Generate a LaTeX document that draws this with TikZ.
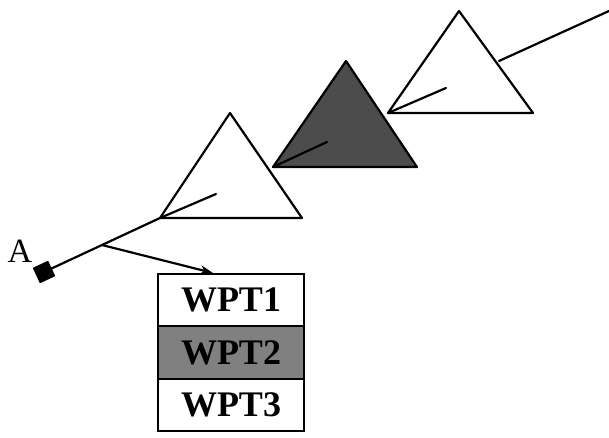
\documentclass[tikz,border=0pt]{standalone}
\usepackage{fontspec}
\setmainfont{Liberation Serif}
\usetikzlibrary{arrows.meta,positioning}
\definecolor{figdark}{gray}{0.3}
\definecolor{figmid}{gray}{0.5}
\tikzset{
  ftri/.style={draw=black,line width=2.2pt,fill=white,line join=round},
  fdark/.style={ftri,fill=figdark},
  flink/.style={black,line width=2.2pt,line cap=round},
  farrow/.style={flink,-{Stealth[length=13pt,width=9pt]}},
  fpoint/.style={fill=black,minimum size=17pt,inner sep=0pt,rotate=25},
  frow/.style={draw=black,line width=2.2pt,minimum width=146pt,minimum height=52.5pt,
               inner sep=0pt,outer sep=0pt,font=\fontsize{36}{36}\selectfont\bfseries},
}
\begin{document}
\begin{tikzpicture}[x=1pt,y=-1pt]
  \useasboundingbox (0,0) rectangle (609,438);
  % triangle corners
  \coordinate (t1top) at (230,113); \coordinate (t1l) at (160,218); \coordinate (t1r) at (302,218);
  \coordinate (t2top) at (346,61);  \coordinate (t2l) at (273,167); \coordinate (t2r) at (417,167);
  \coordinate (t3top) at (459,11);  \coordinate (t3l) at (388,113); \coordinate (t3r) at (533,113);
  \draw[ftri]  (t1top) -- (t1r) -- (t1l) -- cycle;
  \draw[fdark] (t2top) -- (t2r) -- (t2l) -- cycle;
  \draw[ftri]  (t3top) -- (t3r) -- (t3l) -- cycle;
  % start point
  \node[fpoint] (pa) at (44,272) {};
  \node[font=\fontsize{34}{34}\selectfont] (alab) at (20,251) {A};
  % waypoint table
  \node[frow] (wpt1) at (231,300) {WPT1};
  \node[frow,fill=figmid,below=0pt of wpt1] (wpt2) {WPT2};
  \node[frow,below=0pt of wpt2] (wpt3) {WPT3};
  % path
  \coordinate (split) at (102,245);
  \coordinate (tip) at (213,273);
  \coordinate (s1) at (216,194);
  \coordinate (s2) at (327,142);
  \coordinate (s3) at (446,88);
  \coordinate (exit) at (499,61);
  \coordinate (far) at (609,11);
  \draw[flink] (pa.center) -- (t1l);
  \draw[flink] (t1l) -- (s1);
  \draw[flink] (t2l) -- (s2);
  \draw[flink] (t3l) -- (s3);
  \draw[flink] (exit) -- (far);
  \draw[farrow] (split) -- (tip);
\end{tikzpicture}
\end{document}
